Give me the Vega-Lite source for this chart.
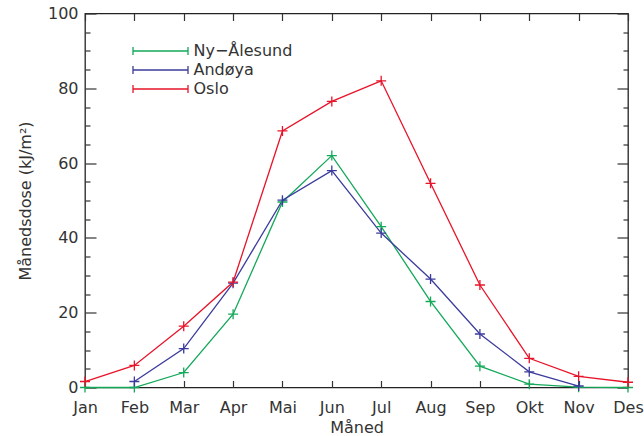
{
  "$schema": "https://vega.github.io/schema/vega-lite/v6.json",
  "autosize": "none",
  "width": 543,
  "height": 374,
  "padding": {"left": 85, "top": 13.5, "right": 16, "bottom": 48.5},
  "background": "white",
  "config": {
    "view": {"stroke": "#222", "strokeWidth": 1.3},
    "font": "DejaVu Sans",
    "axis": {"labelFont": "DejaVu Sans", "labelFontSize": 16, "labelColor": "#333", "titleFont": "DejaVu Sans", "titleFontSize": 16, "titleFontWeight": "normal", "titleColor": "#333", "tickColor": "#333", "tickWidth": 1.2, "domain": false, "grid": false}
  },
  "data": {
    "values": [
      {"month": "Jan", "site": "Ny−Ålesund", "dose": 0},
      {"month": "Feb", "site": "Ny−Ålesund", "dose": 0},
      {"month": "Mar", "site": "Ny−Ålesund", "dose": 4.0},
      {"month": "Apr", "site": "Ny−Ålesund", "dose": 19.6},
      {"month": "Mai", "site": "Ny−Ålesund", "dose": 49.6},
      {"month": "Jun", "site": "Ny−Ålesund", "dose": 62.0},
      {"month": "Jul", "site": "Ny−Ålesund", "dose": 43.0},
      {"month": "Aug", "site": "Ny−Ålesund", "dose": 23.0},
      {"month": "Sep", "site": "Ny−Ålesund", "dose": 5.7},
      {"month": "Okt", "site": "Ny−Ålesund", "dose": 0.9},
      {"month": "Nov", "site": "Ny−Ålesund", "dose": 0.1},
      {"month": "Des", "site": "Ny−Ålesund", "dose": 0},
      {"month": "Feb", "site": "Andøya", "dose": 1.6},
      {"month": "Mar", "site": "Andøya", "dose": 10.4},
      {"month": "Apr", "site": "Andøya", "dose": 27.9},
      {"month": "Mai", "site": "Andøya", "dose": 50.1},
      {"month": "Jun", "site": "Andøya", "dose": 58.0},
      {"month": "Jul", "site": "Andøya", "dose": 41.3},
      {"month": "Aug", "site": "Andøya", "dose": 29.0},
      {"month": "Sep", "site": "Andøya", "dose": 14.3},
      {"month": "Okt", "site": "Andøya", "dose": 4.2},
      {"month": "Nov", "site": "Andøya", "dose": 0.4},
      {"month": "Jan", "site": "Oslo", "dose": 1.6},
      {"month": "Feb", "site": "Oslo", "dose": 5.9},
      {"month": "Mar", "site": "Oslo", "dose": 16.4},
      {"month": "Apr", "site": "Oslo", "dose": 28.2},
      {"month": "Mai", "site": "Oslo", "dose": 68.6},
      {"month": "Jun", "site": "Oslo", "dose": 76.5},
      {"month": "Jul", "site": "Oslo", "dose": 82.0},
      {"month": "Aug", "site": "Oslo", "dose": 54.6},
      {"month": "Sep", "site": "Oslo", "dose": 27.4},
      {"month": "Okt", "site": "Oslo", "dose": 7.8},
      {"month": "Nov", "site": "Oslo", "dose": 3.0},
      {"month": "Des", "site": "Oslo", "dose": 1.4}
    ]
  },
  "encoding": {
    "x": {"field": "month", "type": "ordinal", "scale": {"type": "point", "padding": 0, "domain": ["Jan","Feb","Mar","Apr","Mai","Jun","Jul","Aug","Sep","Okt","Nov","Des"]}},
    "y": {"field": "dose", "type": "quantitative", "scale": {"domain": [0, 100], "nice": false}},
    "color": {"field": "site", "type": "nominal", "scale": {"domain": ["Ny−Ålesund", "Andøya", "Oslo"], "range": ["#14a85a", "#3c3c9c", "#e8142a"]}}
  },
  "layer": [
    {
      "mark": {"type": "line", "strokeWidth": 1.3},
      "encoding": {
        "x": {"field": "month", "type": "ordinal", "title": "Måned", "axis": {"orient": "bottom", "labelAngle": 0, "tickSize": -7, "labelPadding": 19, "titlePadding": 4}},
        "y": {"field": "dose", "type": "quantitative", "title": "Månedsdose (kJ/m²)", "axis": {"orient": "left", "values": [0, 20, 40, 60, 80, 100], "tickSize": -11, "labelPadding": 18, "titlePadding": 14}},
        "color": {"field": "site", "type": "nominal", "legend": {"orient": "none", "legendX": 67.5, "legendY": 29.5, "title": null, "symbolType": "M-5.5,0H5.5M-5.5,-0.8V0.8M5.5,-0.8V0.8", "symbolSize": 100, "symbolStrokeWidth": 1.3, "symbolFillColor": "transparent", "labelOffset": 25, "labelFontSize": 16, "labelFont": "DejaVu Sans", "labelColor": "#333", "rowPadding": 3, "padding": 0}}
      }
    },
    {
      "mark": {"type": "point", "shape": "M-1,0H1M0,-1V1", "size": 100, "filled": false, "strokeWidth": 1.3, "opacity": 1},
      "encoding": {
        "x": {"field": "month", "type": "ordinal", "axis": {"orient": "top", "labels": false, "title": null, "tickSize": -7}},
        "y": {"field": "dose", "type": "quantitative", "axis": {"orient": "right", "values": [0, 20, 40, 60, 80, 100], "labels": false, "title": null, "tickSize": -11}}
      }
    },
    {
      "mark": {"type": "rule", "opacity": 0},
      "encoding": {
        "y": {"field": "dose", "type": "quantitative", "axis": {"orient": "left", "values": [5,10,15,25,30,35,45,50,55,65,70,75,85,90,95], "labels": false, "title": null, "tickSize": -5}},
        "x": {"field": "month", "type": "ordinal", "axis": null}
      }
    },
    {
      "mark": {"type": "rule", "opacity": 0},
      "encoding": {
        "y": {"field": "dose", "type": "quantitative", "axis": {"orient": "right", "values": [5,10,15,25,30,35,45,50,55,65,70,75,85,90,95], "labels": false, "title": null, "tickSize": -5}},
        "x": {"field": "month", "type": "ordinal", "axis": null}
      }
    }
  ],
  "resolve": {"axis": {"x": "independent", "y": "independent"}}
}
